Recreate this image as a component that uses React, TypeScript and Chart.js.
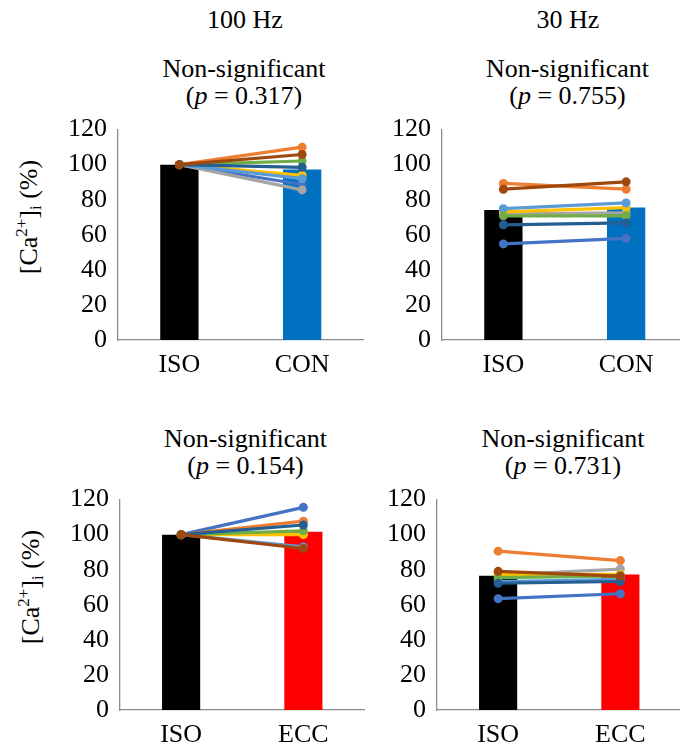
import React, { useEffect, useRef } from 'react';
import { Chart, registerables } from 'chart.js';
Chart.register(...registerables);

const FONT = '"Liberation Serif", "Times New Roman", "DejaVu Serif", serif';

// Excel default series colours, one per subject
const seriesColors = ['#4472C4', '#ED7D31', '#A5A5A5', '#FFC000', '#5B9BD5', '#70AD47', '#255E91', '#9E480E'];

const conCategories = ['ISO', 'CON'];
const eccCategories = ['ISO', 'ECC'];
const yMin = 0;
const yMax = 120;
const yStep = 20;

// 100 Hz, ISO vs CON
const hz100ConBars = [100, 97.2];
const hz100ConIso = [100, 100, 100, 100, 100, 100, 100, 100];
const hz100ConCon = [88.7, 110.0, 85.6, 93.9, 92.0, 102.1, 98.5, 105.8];

// 30 Hz, ISO vs CON
const hz30ConBars = [74.2, 75.6];
const hz30ConIso = [54.8, 89.3, 72.0, 73.1, 74.9, 70.8, 65.7, 86.0];
const hz30ConCon = [58.0, 86.0, 72.5, 75.5, 78.2, 70.8, 66.8, 90.2];

// 100 Hz, ISO vs ECC
const hz100EccBars = [100, 101.6];
const hz100EccIso = [100, 100, 100, 100, 100, 100, 100, 100];
const hz100EccEcc = [115.6, 107.7, 100.5, 100.0, 93.0, 102.2, 105.5, 92.1];

// 30 Hz, ISO vs ECC
const hz30EccBars = [76.6, 77.3];
const hz30EccIso = [63.5, 90.6, 77.0, 77.3, 73.3, 75.5, 72.3, 79.1];
const hz30EccEcc = [66.3, 85.2, 80.4, 77.3, 74.5, 76.5, 73.3, 76.4];

type PanelProps = {
  left: number;
  top: number;
  width: number;
  height: number;
  categories: string[];
  bars: number[];
  barColor: string;
  first: number[];
  second: number[];
};

const Y_AXIS_W = 80;
const X_AXIS_H = 50;
const PAD_TOP = 20;

function Panel({ left, top, width, height, categories, bars, barColor, first, second }: PanelProps) {
  const ref = useRef<HTMLCanvasElement | null>(null);
  useEffect(() => {
    if (!ref.current) return;
    const tickFont = { family: FONT, size: 26 };
    const axisBorder = { display: true, color: '#8C8C8C', width: 1.3 };
    const chart = new Chart(ref.current, {
      type: 'bar',
      data: {
        labels: categories,
        datasets: [
          {
            type: 'bar',
            data: bars,
            backgroundColor: ['#000000', barColor],
            borderWidth: 0,
            categoryPercentage: 0.312,
            barPercentage: 1,
            order: 100,
          } as any,
          ...seriesColors.map((c, i) => ({
            type: 'line',
            data: [first[i], second[i]],
            borderColor: c,
            backgroundColor: c,
            borderWidth: 3.2,
            pointRadius: 4.5,
            pointHoverRadius: 4.5,
            pointBorderWidth: 0,
            fill: false,
            order: 8 - i,
          })) as any,
        ],
      },
      options: {
        animation: false,
        responsive: false,
        maintainAspectRatio: false,
        events: [],
        layout: { padding: { top: PAD_TOP, left: 0, right: 0, bottom: 0 } },
        plugins: { legend: { display: false }, tooltip: { enabled: false }, title: { display: false } },
        scales: {
          x: {
            grid: { display: false, drawTicks: false },
            border: axisBorder,
            ticks: { font: tickFont, color: '#000000', padding: 10, maxRotation: 0 },
            afterFit: (s: any) => {
              s.height = X_AXIS_H;
            },
          },
          y: {
            min: yMin,
            max: yMax,
            grid: { display: false, drawTicks: false },
            border: axisBorder,
            ticks: { stepSize: yStep, font: tickFont, color: '#000000', padding: 11 },
            afterFit: (s: any) => {
              s.width = Y_AXIS_W;
            },
          },
        },
      } as any,
    });
    return () => chart.destroy();
  }, []);
  return (
    <canvas
      ref={ref}
      width={width}
      height={height}
      style={{ position: 'absolute', left, top, width, height }}
    />
  );
}

const textBase: React.CSSProperties = {
  position: 'absolute',
  width: 300,
  textAlign: 'center',
  fontFamily: FONT,
  fontSize: 26,
  lineHeight: '26px',
  color: '#000',
  whiteSpace: 'nowrap',
};

function Centered({ cx, top, children }: { cx: number; top: number; children: React.ReactNode }) {
  return <div style={{ ...textBase, left: cx - 150, top }}>{children}</div>;
}

function YLabel({ cx, cy }: { cx: number; cy: number }) {
  return (
    <div
      style={{
        position: 'absolute',
        left: cx,
        top: cy,
        transform: 'translate(-50%, -50%) rotate(-90deg)',
        fontFamily: FONT,
        fontSize: 26,
        lineHeight: '26px',
        color: '#000',
        whiteSpace: 'nowrap',
      }}
    >
      [Ca<span style={{ fontSize: '0.65em', verticalAlign: '0.6em' }}>2+</span>]
      <span style={{ fontSize: '0.65em', verticalAlign: '-0.25em' }}>i</span> (%)
    </div>
  );
}

export default function App() {
  const plotH = 217;
  const h = PAD_TOP + plotH + X_AXIS_H;
  return (
    <div style={{ position: 'absolute', left: 0, top: 0, width: 680, height: 747, overflow: 'hidden', background: '#fff' }}>
      <Centered cx={245} top={6.5}>100 Hz</Centered>
      <Centered cx={568} top={6.5}>30 Hz</Centered>

      <Centered cx={244} top={55.5}>Non-significant</Centered>
      <Centered cx={244} top={83.2}>(<i>p</i> = 0.317)</Centered>
      <Centered cx={567.5} top={55.5}>Non-significant</Centered>
      <Centered cx={567.5} top={83.2}>(<i>p</i> = 0.755)</Centered>
      <Centered cx={245.5} top={425.5}>Non-significant</Centered>
      <Centered cx={245.5} top={453.2}>(<i>p</i> = 0.154)</Centered>
      <Centered cx={563} top={425.5}>Non-significant</Centered>
      <Centered cx={563} top={453.2}>(<i>p</i> = 0.731)</Centered>

      <YLabel cx={29} cy={217} />
      <YLabel cx={30.5} cy={587} />

      <Panel left={38} top={103} width={Y_AXIS_W + 250} height={h} categories={conCategories} bars={hz100ConBars} barColor="#0070C0" first={hz100ConIso} second={hz100ConCon} />
      <Panel left={362} top={103} width={Y_AXIS_W + 250} height={h} categories={conCategories} bars={hz30ConBars} barColor="#0070C0" first={hz30ConIso} second={hz30ConCon} />
      <Panel left={40} top={473} width={Y_AXIS_W + 249} height={h} categories={eccCategories} bars={hz100EccBars} barColor="#FF0000" first={hz100EccIso} second={hz100EccEcc} />
      <Panel left={357} top={473} width={Y_AXIS_W + 249} height={h} categories={eccCategories} bars={hz30EccBars} barColor="#FF0000" first={hz30EccIso} second={hz30EccEcc} />
    </div>
  );
}
